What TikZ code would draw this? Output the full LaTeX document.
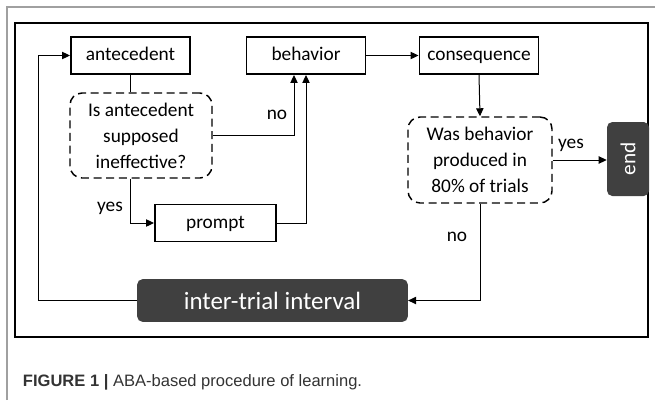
\documentclass[tikz,border=0pt]{standalone}
\usepackage{fontspec}
\setmainfont{Carlito}
\newfontfamily\capfont{Liberation Sans}
\usetikzlibrary{arrows.meta, positioning, calc, shapes}
\definecolor{DarkBox}{RGB}{64,64,64}
\definecolor{FrameGray}{RGB}{160,160,160}
\definecolor{CapGray}{RGB}{51,51,51}
\begin{document}
\begin{tikzpicture}[x=0.75pt, y=-0.75pt,
  stepbox/.style={draw, rectangle, line width=1.2pt, inner sep=0pt, minimum width=89.5pt, minimum height=28pt, text height=10.5pt, text depth=3pt, font=\fontsize{14.5}{17}\selectfont},
  question/.style={draw, rectangle, rounded corners=9pt, dashed, dash pattern=on 6pt off 3.5pt, line width=1.1pt, inner sep=0pt, align=center, font=\fontsize{14.5}{19.5}\selectfont},
  darkbox/.style={rectangle, rounded corners=4pt, fill=DarkBox, text=white, inner sep=0pt},
  arr/.style={-{Triangle[length=6pt,width=5.5pt]}, line width=0.75pt},
  link/.style={line width=0.75pt},
  lbl/.style={font=\fontsize{14.5}{17}\selectfont}]
\useasboundingbox (0,0) rectangle (655,400);
% frames
\draw[FrameGray, line width=1.1pt] (7,400) -- (7,7) -- (655,7);
\draw[line width=1.3pt] (15,23) rectangle (648,337);
% boxes
\node[stepbox] at (130.5,55.5) (ante) {antecedent};
\node[stepbox] at (306,55.5) (beh) {behavior};
\node[stepbox] at (479,55.5) (cons) {consequence};
\node[stepbox, minimum width=91pt] at (215.5,223) (prompt) {prompt};
\node[question, minimum width=106.5pt, minimum height=63.75pt] at (141,135.5) (dec1) {Is antecedent\\supposed\\ineffective?};
\node[question, minimum width=108pt, minimum height=64.5pt] at (480,160) (dec2) {Was behavior\\produced in\\80\% of trials};
\node[darkbox, minimum width=31.5pt, minimum height=55.5pt] at (628,159) (end) {\rotatebox{90}{\fontsize{16}{18}\selectfont end}};
\node[darkbox, minimum width=203pt, minimum height=32pt, font=\fontsize{18.7}{22}\selectfont] at (272.5,300.5) (iti) {inter-trial interval};
\coordinate (loop) at (38,55.5);
% connectors
\draw[link] (ante.south) -- (ante.south |- dec1.north);
\draw[arr] (dec1.east) -| ($(beh.south)+(-12,0)$);
\draw[arr] (ante.south |- dec1.south) |- (prompt.west);
\draw[arr] (prompt.east) -| (beh.south);
\draw[arr] (beh.east) -- (cons.west);
\draw[arr] (cons.south) -- (dec2.north);
\draw[arr] (dec2.east) -- (end.west |- dec2.east);
\draw[arr] (dec2.south) |- (iti.east);
\draw[arr] (iti.west) -| (loop) -- (ante.west);
% labels
\node[lbl] at (277,115) (no1) {no};
\node[lbl] at (110,208) (yes1) {yes};
\node[lbl] at (571,145) (yes2) {yes};
\node[lbl] at (457,237) (no2) {no};
\node[anchor=base west, inner sep=0pt, text=CapGray, font=\capfont\fontsize{12.4}{15}\selectfont] at (22.7,386) (cap) {\textbf{FIGURE 1 |} ABA-based procedure of learning.};
\end{tikzpicture}
\end{document}
